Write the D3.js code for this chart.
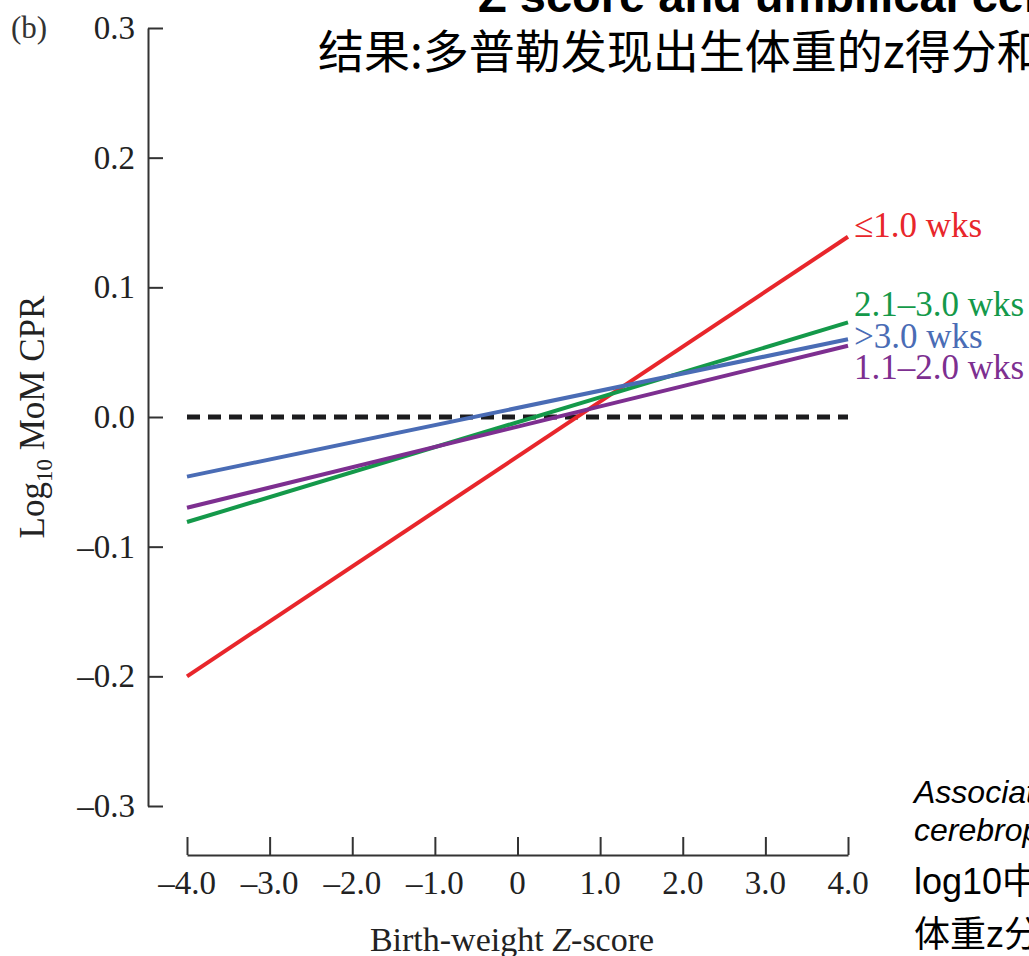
<!DOCTYPE html>
<html lang="en">
<head>
<meta charset="utf-8">
<script src="https://d3js.org/d3.v7.min.js"></script>
<style>
  body { margin: 0; background: #fff; overflow: hidden; }
  svg { display: block; }
  .serif { font-family: "Liberation Serif", "DejaVu Serif", serif; }
</style>
</head>
<body>
<div id="chart"></div>
<script>
// data: straight fitted lines, value at z = -4 and z = 4
const groups = ["≤1.0 wks", "2.1–3.0 wks", ">3.0 wks", "1.1–2.0 wks"];
const startVals = [-0.200, -0.081, -0.046, -0.070];
const endVals = [0.139, 0.073, 0.060, 0.055];
const colors = ["#e8262b", "#14994a", "#4a6cb5", "#7d2f90"];
const labelVals = [0.139, 0.078, 0.053, 0.029];
const xTicks = [-4, -3, -2, -1, 0, 1, 2, 3, 4];
const xTickLabels = ["–4.0", "–3.0", "–2.0", "–1.0", "0", "1.0", "2.0", "3.0", "4.0"];
const yTicks = [0.3, 0.2, 0.1, 0.0, -0.1, -0.2, -0.3];
const yTickLabels = ["0.3", "0.2", "0.1", "0.0", "–0.1", "–0.2", "–0.3"];

const W = 1029, H = 956;
const svg = d3.select("#chart").append("svg").attr("width", W).attr("height", H);

const x = d3.scaleLinear().domain([-4, 4]).range([187, 848]);
const y = d3.scaleLinear().domain([-0.3, 0.3]).range([806, 28]);

// y axis with inward ticks
const yAxis = d3.axisRight(y).tickValues(yTicks).tickSize(15)
  .tickFormat((d, i) => yTickLabels[i]).tickSizeOuter(0);
const gy = svg.append("g").attr("transform", "translate(148,0)").call(yAxis);
gy.select(".domain").attr("stroke", "#333").attr("stroke-width", 2);
gy.selectAll(".tick line").attr("stroke", "#333").attr("stroke-width", 2);
gy.selectAll(".tick text").attr("class", "serif").attr("x", -13).attr("text-anchor", "end")
  .attr("dy", "0.32em").attr("font-size", 33).attr("fill", "#222");

// x axis, separate and ticks upward
const xAxis = d3.axisTop(x).tickValues(xTicks).tickSize(18).tickFormat("").tickSizeOuter(0);
const gx = svg.append("g").attr("transform", "translate(0,855)").call(xAxis);
gx.select(".domain").attr("stroke", "#333").attr("stroke-width", 2);
gx.selectAll(".tick line").attr("stroke", "#333").attr("stroke-width", 2);
svg.append("g").selectAll("text").data(xTicks).join("text")
  .attr("class", "serif").attr("x", d => x(d)).attr("y", 894)
  .attr("text-anchor", "middle").attr("font-size", 33).attr("fill", "#222")
  .text((d, i) => xTickLabels[i]);

// zero reference line
svg.append("line")
  .attr("x1", x(-4)).attr("x2", x(4)).attr("y1", y(0)).attr("y2", y(0))
  .attr("stroke", "#1c1c1e").attr("stroke-width", 5).attr("stroke-dasharray", "13,8");

// fitted lines
const line = d3.line().x(d => x(d[0])).y(d => y(d[1]));
groups.forEach((g, i) => {
  svg.append("path")
    .attr("d", line([[-4, startVals[i]], [4, endVals[i]]]))
    .attr("fill", "none").attr("stroke", colors[i]).attr("stroke-width", 4);
});

// labels
svg.append("g").selectAll("text").data(groups).join("text")
  .attr("class", "serif").attr("x", 854).attr("y", (d, i) => y(labelVals[i]))
  .attr("font-size", 35).attr("fill", (d, i) => colors[i]).text(d => d);

// axis titles
svg.append("text").attr("class", "serif").attr("x", 11).attr("y", 38)
  .attr("font-size", 31).attr("fill", "#333").text("(b)");
const yt = svg.append("text").attr("class", "serif")
  .attr("transform", "translate(44,417) rotate(-90)")
  .attr("text-anchor", "middle").attr("font-size", 35).attr("fill", "#222");
yt.append("tspan").text("Log");
yt.append("tspan").attr("font-size", 23).attr("dy", 8).text("10");
yt.append("tspan").attr("dy", -8).text(" MoM CPR");
svg.append("text").attr("class", "serif").attr("x", 512).attr("y", 951)
  .attr("text-anchor", "middle").attr("font-size", 34).attr("fill", "#222")
  .html('Birth-weight <tspan font-style="italic">Z</tspan>-score');

// slide text overlaid on the figure
svg.append("text").attr("x", 478).attr("y", 12)
  .attr("font-family", "Liberation Sans, Arial, sans-serif").attr("font-weight", "bold")
  .attr("font-size", 47).attr("fill", "#000").text("Z score and umbilical cerebral");
svg.append("text").attr("x", 318).attr("y", 68)
  .attr("font-family", "Noto Sans CJK SC, sans-serif")
  .attr("font-size", 46).attr("fill", "#000").text("结果:多普勒发现出生体重的z得分和");
const notes = [
  {t: "Association", y: 803, it: true},
  {t: "cerebroplacental", y: 841, it: true},
  {t: "log10中位数", y: 894, it: false},
  {t: "体重z分数", y: 947, it: false}
];
svg.append("g").selectAll("text").data(notes).join("text")
  .attr("x", 914).attr("y", d => d.y)
  .attr("font-family", "Liberation Sans, Noto Sans CJK SC, sans-serif")
  .attr("font-style", d => d.it ? "italic" : "normal")
  .attr("font-size", (d, i) => i < 2 ? 32 : 36).attr("fill", "#000").text(d => d.t);
</script>
</body>
</html>
